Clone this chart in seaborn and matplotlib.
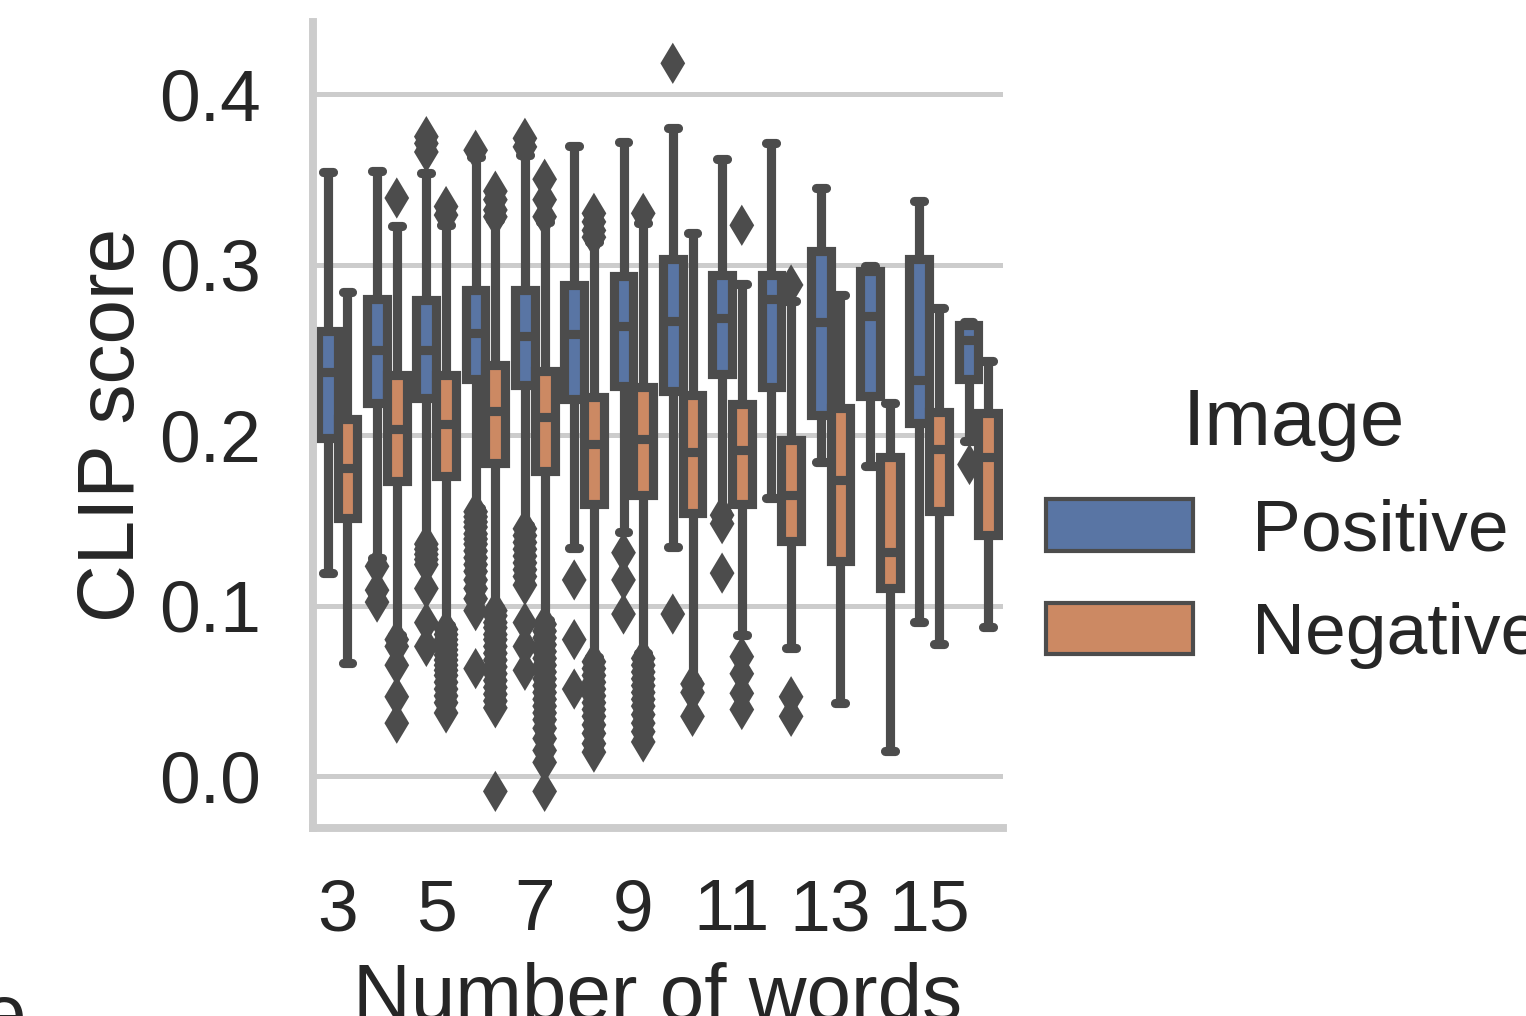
import matplotlib
matplotlib.use("Agg")
import matplotlib.pyplot as plt
import pandas as pd
import seaborn as sns

# categories and box statistics
words = [3, 4, 5, 6, 7, 8, 9, 10, 11, 12, 13, 14, 15, 16]
hue_order = ["Positive", "Negative"]

pos_whislo = [0.119, 0.128, 0.138, 0.157, 0.147, 0.134, 0.143, 0.1345, 0.155, 0.163, 0.184, 0.182, 0.0905, 0.1965]
pos_q1 = [0.198, 0.219, 0.222, 0.233, 0.2295, 0.221, 0.229, 0.226, 0.236, 0.228, 0.2115, 0.223, 0.207, 0.233]
pos_med = [0.237, 0.250, 0.250, 0.260, 0.258, 0.259, 0.264, 0.267, 0.2686, 0.280, 0.266, 0.270, 0.232, 0.2555]
pos_q3 = [0.261, 0.280, 0.279, 0.285, 0.285, 0.288, 0.293, 0.303, 0.294, 0.294, 0.308, 0.296, 0.303, 0.2645]
pos_whishi = [0.354, 0.355, 0.3535, 0.363, 0.364, 0.3695, 0.372, 0.380, 0.362, 0.371, 0.345, 0.299, 0.337, 0.2664]

neg_whislo = [0.0665, 0.0827, 0.0886, 0.0993, 0.0915, 0.070, 0.072, 0.0563, 0.0827, 0.0748, 0.0426, 0.0147, 0.0774, 0.0872]
neg_q1 = [0.1515, 0.1728, 0.1757, 0.1836, 0.1787, 0.1593, 0.1646, 0.1544, 0.1595, 0.1376, 0.1259, 0.110, 0.1552, 0.1412]
neg_med = [0.1805, 0.2036, 0.2065, 0.2139, 0.2103, 0.1946, 0.1978, 0.190, 0.1915, 0.1646, 0.1737, 0.1314, 0.1918, 0.1871]
neg_q3 = [0.2092, 0.2354, 0.235, 0.2409, 0.2377, 0.2223, 0.2283, 0.2237, 0.2182, 0.1973, 0.216, 0.187, 0.2137, 0.2131]
neg_whishi = [0.2837, 0.3226, 0.3232, 0.326, 0.325, 0.3133, 0.3241, 0.3187, 0.2886, 0.2788, 0.2821, 0.2189, 0.2743, 0.2436]

pos_outliers = [
    [],
    [0.123, 0.109, 0.102],
    [0.375, 0.371, 0.366, 0.136, 0.133, 0.130, 0.127, 0.124, 0.110, 0.090, 0.076],
    [0.367, 0.155, 0.152, 0.149, 0.146, 0.142, 0.139, 0.136, 0.132, 0.128, 0.124, 0.120, 0.115,
     0.110, 0.104, 0.097, 0.063],
    [0.374, 0.369, 0.145, 0.141, 0.137, 0.133, 0.129, 0.125, 0.121, 0.117, 0.112, 0.090, 0.076, 0.062],
    [0.115, 0.080, 0.051],
    [0.131, 0.115, 0.095],
    [0.418, 0.095],
    [0.153, 0.148, 0.119],
    [],
    [],
    [],
    [],
    [0.183],
]
neg_outliers = [
    [],
    [0.339, 0.080, 0.076, 0.065, 0.0465, 0.031],
    [0.334, 0.329, 0.086, 0.083, 0.080, 0.077, 0.074, 0.071, 0.068, 0.065, 0.062, 0.059, 0.055,
     0.051, 0.047, 0.043, 0.037],
    [0.343, 0.338, 0.332, 0.328, 0.097, 0.094, 0.090, 0.087, 0.083, 0.080, 0.076, 0.072, 0.068,
     0.064, 0.060, 0.056, 0.052, 0.048, 0.044, 0.040, -0.009],
    [0.350, 0.338, 0.328, 0.089, 0.085, 0.081, 0.077, 0.073, 0.069, 0.065, 0.061, 0.057, 0.053,
     0.049, 0.045, 0.041, 0.037, 0.033, 0.028, 0.022, 0.015, 0.008, -0.009],
    [0.330, 0.325, 0.320, 0.316, 0.067, 0.063, 0.059, 0.055, 0.051, 0.047, 0.043, 0.039, 0.035,
     0.030, 0.025, 0.019, 0.014],
    [0.330, 0.069, 0.065, 0.061, 0.057, 0.053, 0.049, 0.045, 0.041, 0.036, 0.031, 0.026, 0.020],
    [0.054, 0.049, 0.035],
    [0.323, 0.070, 0.060, 0.0485, 0.039],
    [0.288, 0.0465, 0.035],
    [],
    [],
    [],
    [],
]


def box_rows(label, lo, q1, med, q3, hi):
    # five points per group: min, q1, median, q3, max -> exact quartiles
    rows = []
    for w, vals in zip(words, zip(lo, q1, med, q3, hi)):
        for v in vals:
            rows.append({"words": w, "score": v, "Image": label})
    return rows


def outlier_rows(label, outliers):
    rows = []
    for w, vals in zip(words, outliers):
        for v in vals:
            rows.append({"words": w, "score": v, "Image": label})
    return rows


box_df = pd.DataFrame(
    box_rows("Positive", pos_whislo, pos_q1, pos_med, pos_q3, pos_whishi)
    + box_rows("Negative", neg_whislo, neg_q1, neg_med, neg_q3, neg_whishi)
)
out_df = pd.DataFrame(outlier_rows("Positive", pos_outliers) + outlier_rows("Negative", neg_outliers))

sns.set_theme(style="whitegrid", font_scale=1.6,
              rc={"axes.linewidth": 1.9, "grid.linewidth": 1.2})
plt.rcParams["font.family"] = ["Liberation Sans", "DejaVu Sans"]

line_gray = "#4c4c4c"

fig, ax = plt.subplots(figsize=(1526 / 300, 1016 / 300), dpi=300)
fig.subplots_adjust(left=0.2051, right=0.6573, bottom=0.185, top=0.9783)

sns.boxplot(data=box_df, x="words", y="score", hue="Image", order=words, hue_order=hue_order,
            whis=(0, 100), showfliers=False, linewidth=2.2, linecolor=line_gray, ax=ax)
sns.stripplot(data=out_df, x="words", y="score", hue="Image", order=words, hue_order=hue_order,
              dodge=True, jitter=False, palette=[line_gray, line_gray], marker="d", size=7,
              linewidth=0, legend=False, ax=ax)

ax.set_xticks(range(0, len(words), 2))
ax.set_xticklabels([str(w) for w in words[::2]])
ax.set_ylim(-0.0305, 0.4422)
ax.set_yticks([0.0, 0.1, 0.2, 0.3, 0.4])
ax.set_xlabel("Number of words")
ax.set_ylabel("CLIP score", labelpad=plt.rcParams["axes.labelpad"] - 2)
ax.tick_params(axis="y", pad=plt.rcParams["ytick.major.pad"] + 3)
ax.tick_params(axis="x", pad=plt.rcParams["xtick.major.pad"] + 2.5)
sns.despine(ax=ax)

sns.move_legend(ax, "center left", bbox_to_anchor=(0.967, 0.372), frameon=False, title="Image")
for patch in ax.get_legend().get_patches():
    patch.set_linewidth(1.0)

# clipped fragment of neighbouring text at the lower-left corner
fig.text(-0.012, -0.024, "e", fontsize=19.2, va="baseline", color="#262626")

fig.savefig("out.png", dpi=300)
